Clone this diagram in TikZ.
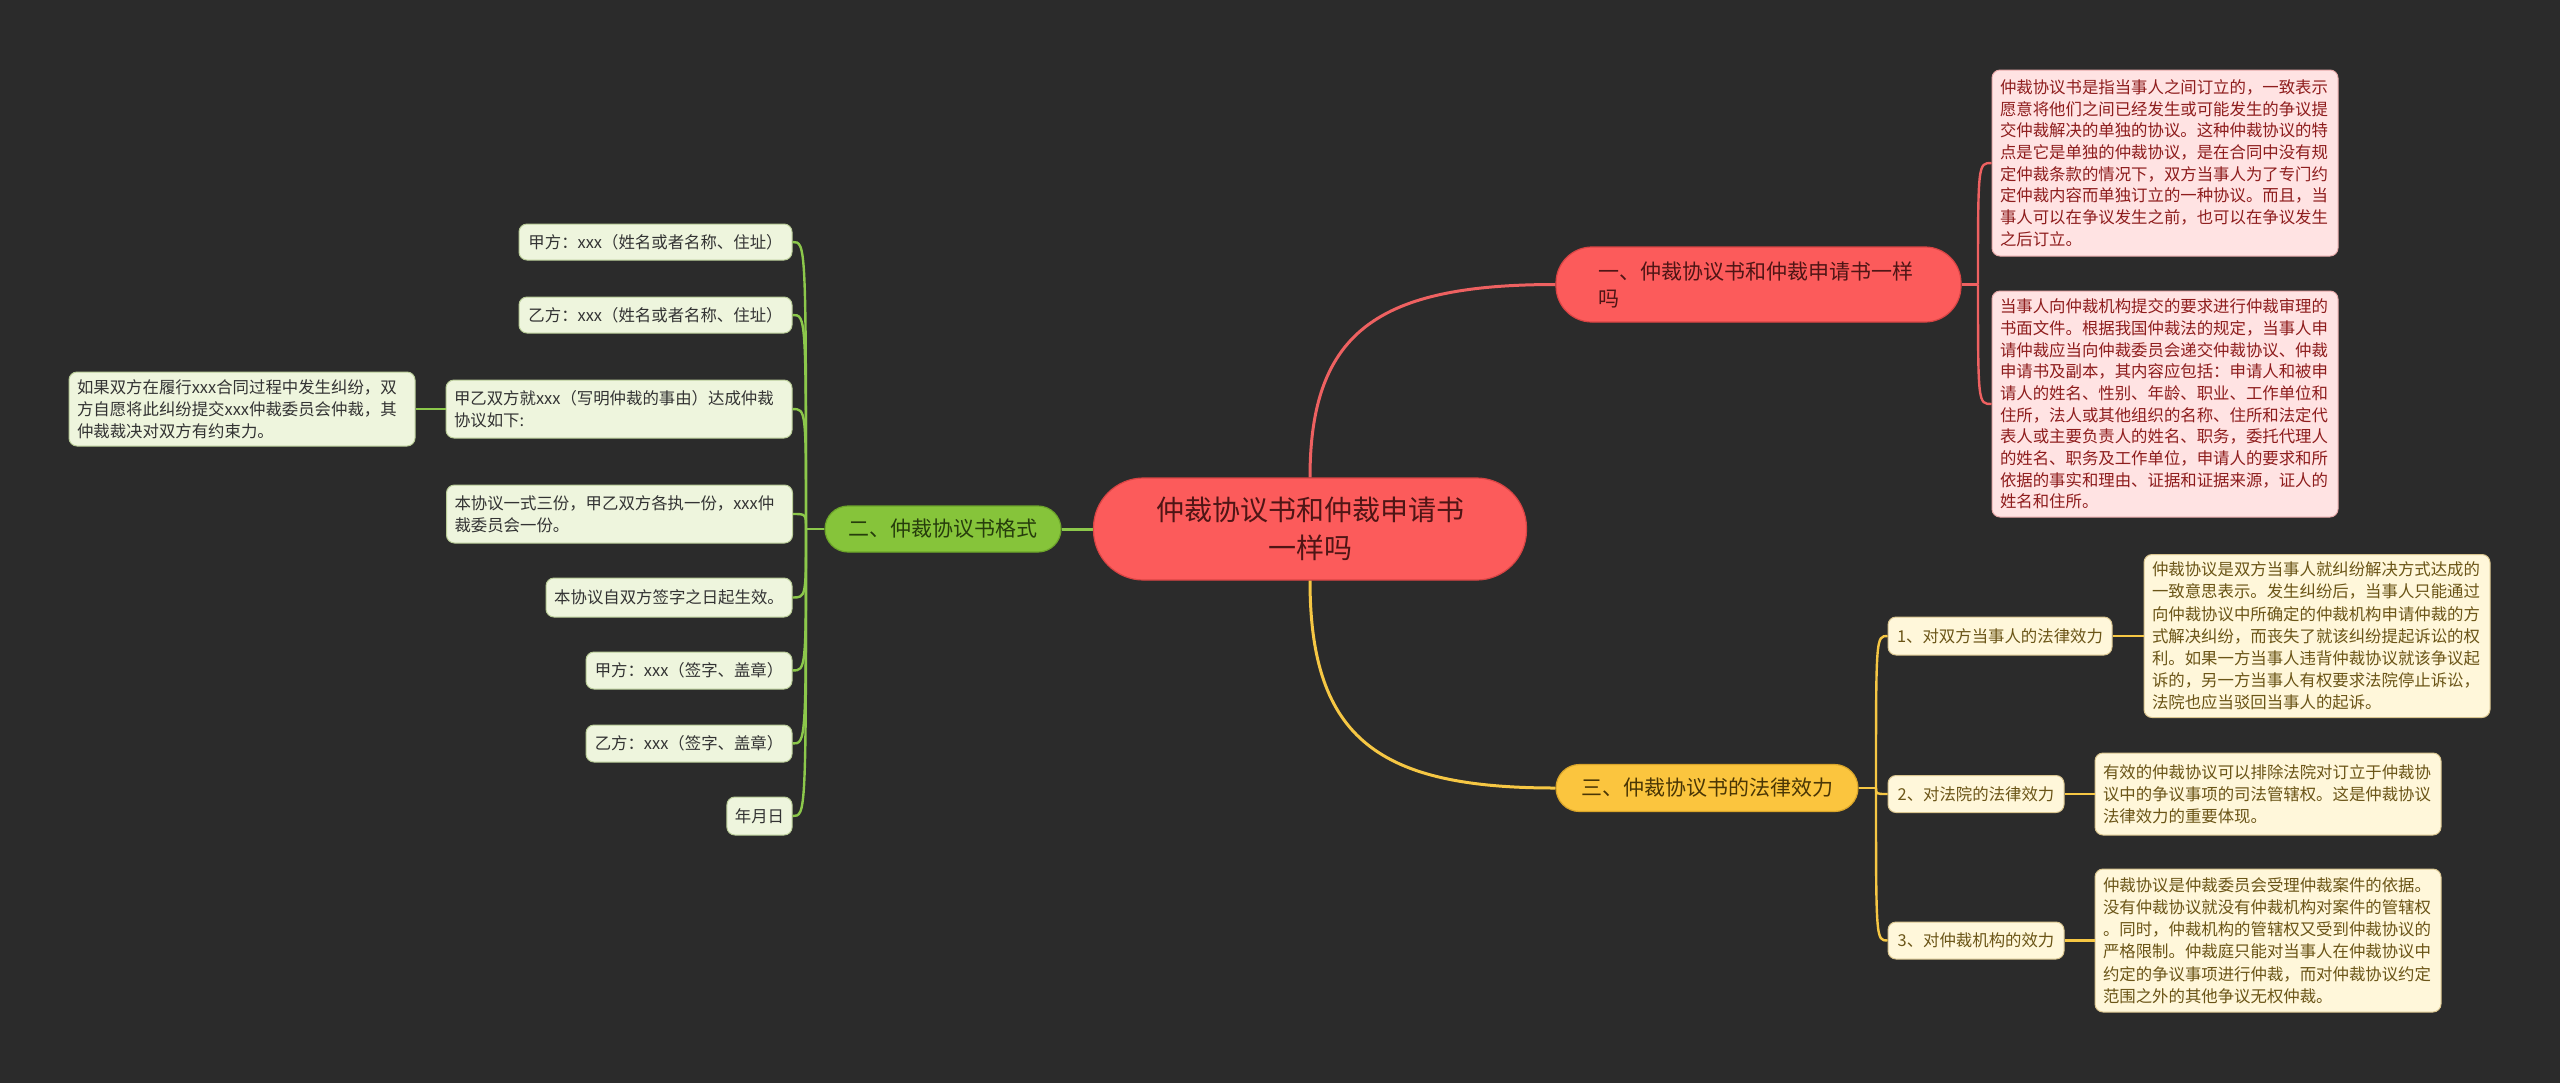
\documentclass[tikz,border=0pt]{standalone}
\usepackage{fontspec}
\setmainfont{Noto Sans CJK SC}
\definecolor{bg}{HTML}{2B2B2B}
\definecolor{redfill}{HTML}{FC5B5B}
\definecolor{reddraw}{HTML}{D94444}
\definecolor{redtext}{HTML}{4F1515}
\definecolor{redline}{HTML}{EE6161}
\definecolor{pinkfill}{HTML}{FFE3E3}
\definecolor{pinkdraw}{HTML}{E7A9A9}
\definecolor{pinktext}{HTML}{8E1D1D}
\definecolor{yfill}{HTML}{FBC53E}
\definecolor{ydraw}{HTML}{D9A52A}
\definecolor{ytext}{HTML}{4A3605}
\definecolor{yline}{HTML}{F6C744}
\definecolor{creamfill}{HTML}{FFF7DA}
\definecolor{creamdraw}{HTML}{D9C58F}
\definecolor{creamtext}{HTML}{6B5517}
\definecolor{gfill}{HTML}{86C43A}
\definecolor{gdraw}{HTML}{6DA52A}
\definecolor{gtext}{HTML}{263D0C}
\definecolor{gline}{HTML}{8CC84B}
\definecolor{lgfill}{HTML}{EEF5DD}
\definecolor{lgdraw}{HTML}{B9CC98}
\definecolor{lgtext}{HTML}{333333}
\tikzset{
  leafbox/.style={rounded corners=4pt, draw, line width=0.5pt, inner xsep=4pt, inner ysep=2pt,
    font=\fontsize{8.2}{10.9}\selectfont, align=left},
  pinkbox/.style={leafbox, fill=pinkfill, draw=pinkdraw, text=pinktext, font=\fontsize{8.2}{10.85}\selectfont},
  creambox/.style={leafbox, fill=creamfill, draw=creamdraw, text=creamtext, font=\fontsize{8.2}{11.1}\selectfont},
  lgbox/.style={leafbox, fill=lgfill, draw=lgdraw, text=lgtext},
  mainbox/.style={fill=redfill, draw=reddraw, line width=0.6pt, text=redtext, rounded corners=25pt,
    minimum width=216.5pt, minimum height=51pt, align=center, inner sep=0pt,
    font=\fontsize{14}{19}\selectfont},
  redbranch/.style={fill=redfill, draw=reddraw, line width=0.6pt, text=redtext, rounded corners=18pt,
    text width=160pt, align=left, inner xsep=21.25pt, inner ysep=2pt, minimum height=37.5pt,
    font=\fontsize{10.5}{13.5}\selectfont},
  ybranch/.style={fill=yfill, draw=ydraw, line width=0.6pt, text=ytext, rounded corners=11.75pt,
    minimum width=151pt, minimum height=23.5pt, inner sep=0pt, font=\fontsize{10.5}{13.5}\selectfont},
  gbranch/.style={fill=gfill, draw=gdraw, line width=0.6pt, text=gtext, rounded corners=11.5pt,
    minimum width=118pt, minimum height=23pt, inner sep=0pt, font=\fontsize{10.5}{13.5}\selectfont},
  redconn/.style={draw=redline, line width=1.2pt},
  yconn/.style={draw=yline, line width=1.2pt},
  gconn/.style={draw=gline, line width=1.2pt},
}
\begin{document}
\begin{tikzpicture}[x=0.5pt,y=-0.5pt]
\fill[bg] (0,0) rectangle (2560,1083);
\useasboundingbox (0,0) rectangle (2560,1083);

% central
\node[mainbox] (c) at (1310,529) {仲裁协议书和仲裁申请书\\一样吗};

% branches
\node[redbranch] (b1) at (1758.5,284.5) {一、仲裁协议书和仲裁申请书一样\\吗};
\node[ybranch] (b3) at (1707,788) {三、仲裁协议书的法律效力};
\node[gbranch] (b2) at (943,529) {二、仲裁协议书格式};

% pink leaves
\node[pinkbox, text width=165pt, minimum height=93pt] (p1) at (2165,163) {仲裁协议书是指当事人之间订立的，一致表示\\愿意将他们之间已经发生或可能发生的争议提\\交仲裁解决的单独的协议。这种仲裁协议的特\\点是它是单独的仲裁协议，是在合同中没有规\\定仲裁条款的情况下，双方当事人为了专门约\\定仲裁内容而单独订立的一种协议。而且，当\\事人可以在争议发生之前，也可以在争议发生\\之后订立。};
\node[pinkbox, text width=165pt, minimum height=113pt] (p2) at (2165,404) {当事人向仲裁机构提交的要求进行仲裁审理的\\书面文件。根据我国仲裁法的规定，当事人申\\请仲裁应当向仲裁委员会递交仲裁协议、仲裁\\申请书及副本，其内容应包括：申请人和被申\\请人的姓名、性别、年龄、职业、工作单位和\\住所，法人或其他组织的名称、住所和法定代\\表人或主要负责人的姓名、职务，委托代理人\\的姓名、职务及工作单位，申请人的要求和所\\依据的事实和理由、证据和证据来源，证人的\\姓名和住所。};

% yellow children
\node[creambox, minimum width=112pt, minimum height=19pt, align=center] (c1) at (2000,636) {1、对双方当事人的法律效力};
\node[creambox, minimum width=88pt, minimum height=18.5pt, align=center] (c2) at (1976,794) {2、对法院的法律效力};
\node[creambox, minimum width=88pt, minimum height=18.5pt, align=center] (c3) at (1976,940.5) {3、对仲裁机构的效力};

\node[creambox, text width=165pt, minimum height=81.5pt] (g1) at (2317,636) {仲裁协议是双方当事人就纠纷解决方式达成的\\一致意思表示。发生纠纷后，当事人只能通过\\向仲裁协议中所确定的仲裁机构申请仲裁的方\\式解决纠纷，而丧失了就该纠纷提起诉讼的权\\利。如果一方当事人违背仲裁协议就该争议起\\诉的，另一方当事人有权要求法院停止诉讼，\\法院也应当驳回当事人的起诉。};
\node[creambox, text width=165pt, minimum height=41pt] (g2) at (2268,794) {有效的仲裁协议可以排除法院对订立于仲裁协\\议中的争议事项的司法管辖权。这是仲裁协议\\法律效力的重要体现。};
\node[creambox, text width=165pt, minimum height=71.5pt] (g3) at (2268,940.5) {仲裁协议是仲裁委员会受理仲裁案件的依据。\\没有仲裁协议就没有仲裁机构对案件的管辖权\\。同时，仲裁机构的管辖权又受到仲裁协议的\\严格限制。仲裁庭只能对当事人在仲裁协议中\\约定的争议事项进行仲裁，而对仲裁协议约定\\范围之外的其他争议无权仲裁。};

% green children
\node[lgbox, minimum width=136.5pt, minimum height=18pt, align=center] (a1) at (655.5,242) {甲方：xxx（姓名或者名称、住址）};
\node[lgbox, minimum width=136.5pt, minimum height=18pt, align=center] (a2) at (655.5,315) {乙方：xxx（姓名或者名称、住址）};
\node[lgbox, text width=165pt, minimum height=29pt] (a3) at (619,409) {甲乙双方就xxx（写明仲裁的事由）达成仲裁\\协议如下:};
\node[lgbox, text width=165pt, minimum height=37pt] (a0) at (242,409) {如果双方在履行xxx合同过程中发生纠纷，双\\方自愿将此纠纷提交xxx仲裁委员会仲裁，其\\仲裁裁决对双方有约束力。};
\node[lgbox, text width=165pt, minimum height=29pt] (a4) at (619.5,514) {本协议一式三份，甲乙双方各执一份，xxx仲\\裁委员会一份。};
\node[lgbox, minimum width=123pt, minimum height=19.5pt, align=center] (a5) at (669,597.5) {本协议自双方签字之日起生效。};
\node[lgbox, minimum width=103pt, minimum height=18.5pt, align=center] (a6) at (689,670.5) {甲方：xxx（签字、盖章）};
\node[lgbox, minimum width=103pt, minimum height=18.5pt, align=center] (a7) at (689,743.5) {乙方：xxx（签字、盖章）};
\node[lgbox, minimum width=32.5pt, minimum height=19pt, align=center] (a8) at (759.5,816) {年月日};

% main connectors
\draw[redconn, line width=1.5pt] (c.north) .. controls (1310,330) and (1380,284.5) .. (b1.west);
\draw[yconn, line width=1.5pt] (c.south) .. controls (1310,740) and (1380,788) .. (b3.west);
\draw[gconn, line width=1.5pt] (c.west) -- (b2.east);

% red bracket
\coordinate (rb) at (1978,284.5);
\draw[redconn] (b1.east) -- (rb);
\draw[redconn] (rb) .. controls (rb |- p1.west) and (rb |- p1.west) .. (p1.west);
\draw[redconn] (rb) .. controls (rb |- p2.west) and (rb |- p2.west) .. (p2.west);

% yellow bracket
\coordinate (yb) at (1876,788);
\draw[yconn] (b3.east) -- (yb);
\foreach \n in {c1,c2,c3}{
  \draw[yconn] (yb) .. controls (yb |- \n.west) and (yb |- \n.west) .. (\n.west);
}
\draw[yconn] (c1.east) -- (g1.west);
\draw[yconn] (c2.east) -- (g2.west);
\draw[yconn] (c3.east) -- (g3.west);

% green bracket
\coordinate (gb) at (806,529);
\draw[gconn] (b2.west) -- (gb);
\foreach \n in {a1,a2,a3,a4,a5,a6,a7,a8}{
  \draw[gconn] (gb) .. controls (gb |- \n.east) and (gb |- \n.east) .. (\n.east);
}
\draw[gconn] (a3.west) -- (a0.east);
\end{tikzpicture}
\end{document}
